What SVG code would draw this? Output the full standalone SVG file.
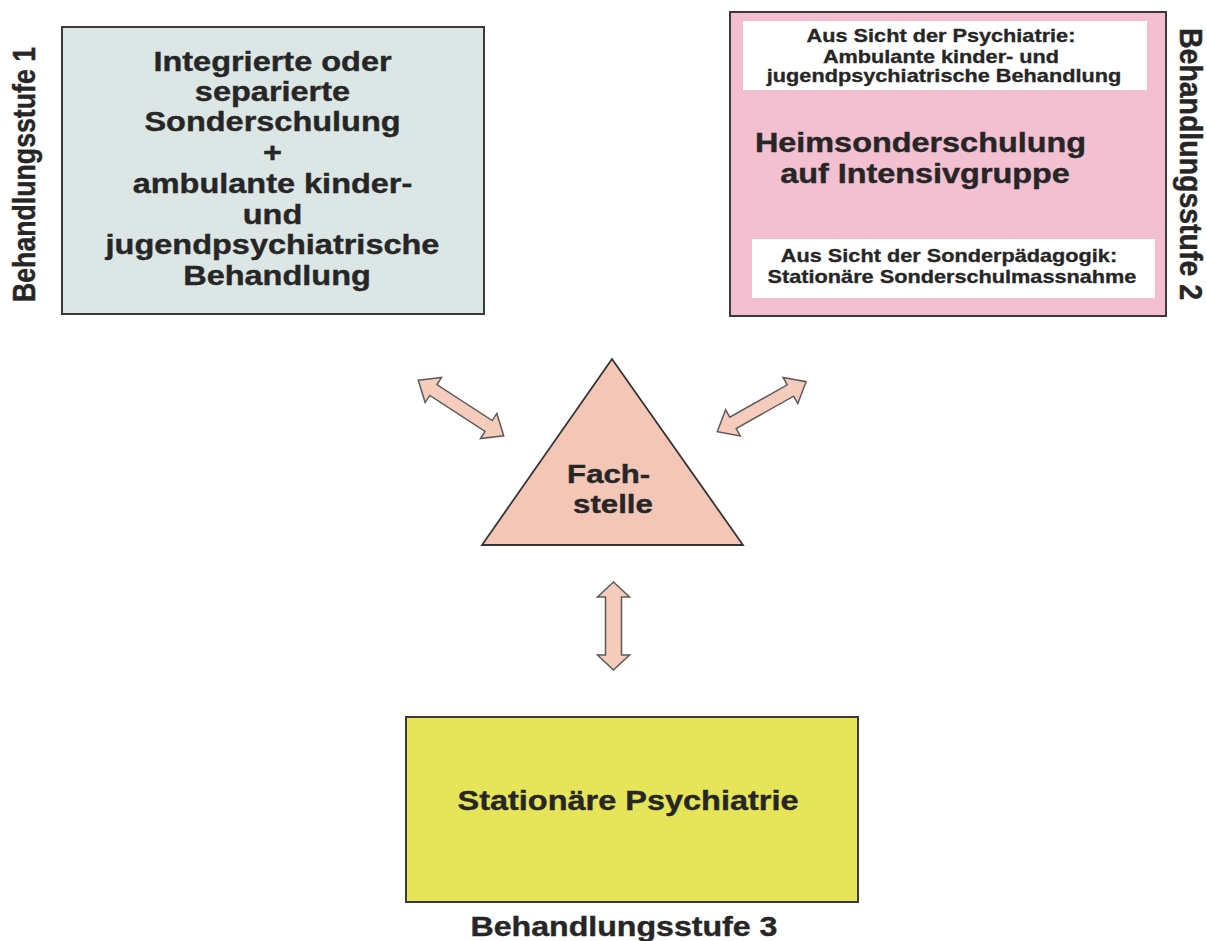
<svg xmlns="http://www.w3.org/2000/svg" width="1207" height="941" viewBox="0 0 1207 941">
<style>
.t{font-family:"Liberation Sans",Arial,sans-serif;font-weight:bold;fill:#262626;stroke:#262626;stroke-width:0.4;text-anchor:middle}
.big{font-size:28px}
.small{font-size:17.5px;stroke-width:0.3}
.box{stroke:#3a3a3a;stroke-width:2}
.inner{fill:#ffffff;stroke:none}
.arr{fill:#f6cdbd;stroke:#5a5a5a;stroke-width:1.5;stroke-linejoin:miter}
</style>
<rect width="1207" height="941" fill="#ffffff"/>
<g id="connectors">
<polygon class="arr" transform="translate(461,408) rotate(33.1)" points="-51,0 -33,-15 -33,-6.5 33,-6.5 33,-15 51,0 33,15 33,6.5 -33,6.5 -33,15"/>
<polygon class="arr" transform="translate(761.7,406.7) rotate(-29.4)" points="-51,0 -33,-15 -33,-6.5 33,-6.5 33,-15 51,0 33,15 33,6.5 -33,6.5 -33,15"/>
<polygon class="arr" transform="translate(613.5,626) rotate(90)" points="-44,0 -29,-16 -29,-8 29,-8 29,-16 44,0 29,16 29,8 -29,8 -29,16"/>
</g>
<g id="stufe1">
<rect class="box" x="62" y="27" width="422" height="287" fill="#dce6e5"/>
<text class="t big" transform="translate(277,0) scale(1.16,1)">
<tspan x="0" y="71">Integrierte oder</tspan>
<tspan x="0" y="101">separierte</tspan>
<tspan x="0" y="131">Sonderschulung</tspan>
<tspan x="0" y="162">+</tspan>
<tspan x="0" y="193">ambulante kinder-</tspan>
<tspan x="0" y="224">und</tspan>
<tspan x="0" y="254">jugendpsychiatrische</tspan>
<tspan x="0" y="285">Behandlung</tspan>
</text>
<text class="t" font-size="28" transform="translate(35,174.5) rotate(-90) scale(1,1.15)" x="0" y="0" textLength="255" lengthAdjust="spacingAndGlyphs">Behandlungsstufe 1</text>
</g>
<g id="stufe2">
<rect class="box" x="730" y="12" width="436" height="304" fill="#f3c0d1"/>
<rect class="inner" x="743" y="21" width="404" height="69"/>
<rect class="inner" x="752" y="239" width="403" height="59"/>
<text class="t small" transform="translate(944,0) scale(1.24,1)">
<tspan x="0" y="42">Aus Sicht der Psychiatrie:</tspan>
<tspan x="0" y="63">Ambulante kinder- und</tspan>
<tspan x="0" y="82">jugendpsychiatrische Behandlung</tspan>
</text>
<text class="t" font-size="27" transform="translate(925,0) scale(1.2,1)">
<tspan x="0" y="152">Heimsonderschulung</tspan>
<tspan x="0" y="183">auf Intensivgruppe</tspan>
</text>
<text class="t small" transform="translate(952,0) scale(1.24,1)">
<tspan x="0" y="262">Aus Sicht der Sonderpädagogik:</tspan>
<tspan x="0" y="283">Stationäre Sonderschulmassnahme</tspan>
</text>
<text class="t" font-size="28" transform="translate(1180,164) rotate(90) scale(1,1.1)" x="0" y="0" textLength="272" lengthAdjust="spacingAndGlyphs">Behandlungsstufe 2</text>
</g>
<g id="fachstelle">
<polygon points="612,359 482,545 743,545" fill="#f4c6b6" stroke="#333333" stroke-width="1.8" stroke-linejoin="miter"/>
<text class="t" font-size="26" transform="translate(613,0) scale(1.2,1)">
<tspan x="0" y="483">Fach-</tspan>
<tspan x="0" y="513">stelle</tspan>
</text>
</g>
<g id="stufe3">
<rect class="box" x="406" y="717" width="452" height="185" fill="#e6e55a"/>
<text class="t big" transform="translate(628,810) scale(1.16,1)" x="0" y="0">Stationäre Psychiatrie</text>
<text class="t" font-size="27" transform="translate(624,936) scale(1.19,1)" x="0" y="0">Behandlungsstufe 3</text>
</g>
</svg>
